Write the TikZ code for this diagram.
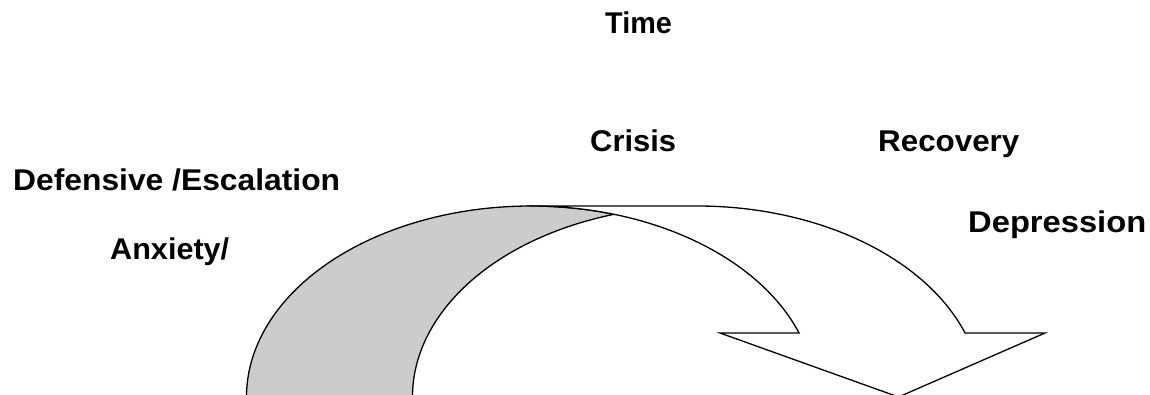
\documentclass[tikz,border=0pt]{standalone}
\usepackage{fontspec}
\setmainfont{Liberation Sans}
\definecolor{bandgray}{RGB}{204,204,204}
\newcommand{\hs}[2]{\scalebox{#1}[1]{#2}}
\begin{document}
\begin{tikzpicture}[x=1pt,y=1pt,
  lbl/.style={font=\bfseries\fontsize{30}{36}\selectfont, anchor=base west, inner sep=0pt},
  outline/.style={draw=black, line width=1.3pt, line join=miter}]
\useasboundingbox (0,0) rectangle (1150,395);
\begin{scope}
\clip (0,0) rectangle (1150,395);
% back band (shaded)
\path[outline, fill=bandgray] (246.5,-2)
  arc[start angle=180, end angle=73.04, x radius=284.5, y radius=191]
  arc[start angle=106.96, end angle=180, x radius=284.5, y radius=191] -- cycle;
% front band with arrowhead
\path[outline, fill=white] (531,189) -- (697,189)
  arc[start angle=90, end angle=19.58, x radius=284.5, y radius=191]
  -- (1045,62) -- (898.5,-2) -- (720,62) -- (799.05,62)
  arc[start angle=19.58, end angle=90, x radius=284.5, y radius=191] -- cycle;
\end{scope}
\node[lbl] (time) at (605,361) {\hs{0.96}{Time}};
\node[lbl] (crisis) at (590,243) {\hs{1.03}{Crisis}};
\node[lbl] (recovery) at (878,243) {\hs{1.045}{Recovery}};
\node[lbl] (defensive) at (13,204) {\hs{1.06}{Defensive /Escalation}};
\node[lbl] (depression) at (968,162) {\hs{1.09}{Depression}};
\node[lbl] (anxiety) at (110,135) {\hs{1.02}{Anxiety/}};
\end{tikzpicture}
\end{document}
